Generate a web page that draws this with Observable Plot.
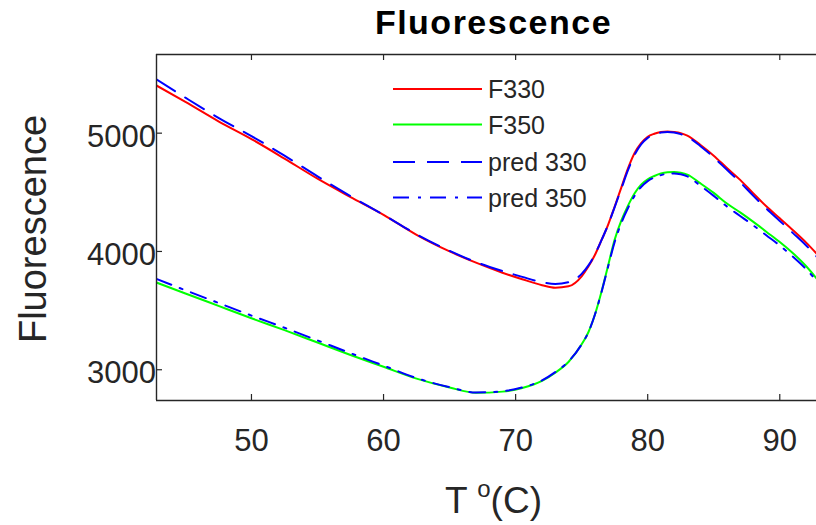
<!DOCTYPE html>
<html><head><meta charset="utf-8">
<script src="https://cdn.jsdelivr.net/npm/d3@7"></script>
<script src="https://cdn.jsdelivr.net/npm/@observablehq/plot@0.6"></script>
<style>
html,body{margin:0;padding:0;background:#fff;overflow:hidden;}
#chart{position:relative;width:816px;height:525px;overflow:hidden;}
</style></head><body><div id="chart"></div>
<script>
const temperature = [42.8,45,47.5,50,52.5,55,57.5,60,62.5,65,67,69,70.5,72,73,74,75,75.5,76,76.5,77,77.5,78,78.5,79,79.5,80,80.5,81,81.5,82,82.5,83,84,85,86,87,88,89,90,91,92,92.8];
const f330 = [5403,5264,5100,4950,4785,4615,4460,4310,4140,4000,3905,3820,3765,3715,3693,3705,3790,3870,3970,4095,4225,4380,4540,4700,4830,4915,4970,4995,5010,5015,5010,5000,4980,4900,4810,4705,4605,4490,4380,4280,4180,4075,3980];
const f350 = [3738,3645,3540,3435,3335,3230,3125,3025,2925,2850,2805,2815,2845,2905,2975,3065,3215,3315,3465,3660,3880,4100,4260,4385,4490,4565,4610,4638,4660,4670,4672,4665,4650,4575,4495,4405,4330,4250,4165,4080,3985,3875,3770];
const pred330 = [5455,5300,5130,4975,4810,4635,4468,4310,4145,4005,3910,3835,3785,3740,3725,3740,3810,3880,3975,4095,4225,4375,4530,4685,4815,4905,4960,4990,5005,5010,5005,4992,4970,4890,4795,4690,4585,4470,4360,4258,4155,4050,3955];
const pred350 = [3768,3672,3565,3458,3355,3248,3140,3035,2930,2852,2808,2818,2850,2910,2980,3070,3215,3315,3465,3655,3870,4080,4240,4365,4470,4545,4595,4625,4645,4658,4660,4652,4635,4555,4470,4380,4300,4220,4135,4050,3955,3850,3750];
const xTicks = [50,60,70,80,90];
const yTicks = [3000,4000,5000];
const seriesNames = ["F330","F350","pred 330","pred 350"];
const seriesValues = [f330,f350,pred330,pred350];
const seriesColors = ["#ff0000","#00ff00","#0000ff","#0000ff"];
const seriesDash = [null,null,"22,12","16,9,3,9"];
const titleText = "Fluorescence";
const xLabelParts = ["T ","o","(C)"];
const yLabelText = "Fluorescence";
const xDomain = [42.81, 92.78];
const yDomain = [2740, 5665];

const W = 816, H = 525, mL = 156, mR = 0, mT = 54, mB = 125;
const frameH = H - mT - mB, frameW = W - mL - mR;
const font = "'Liberation Sans', Arial, Helvetica, sans-serif";
const axisColor = "#262626";

const marks = [];
seriesValues.forEach((vals, k) => {
  const data = temperature.map((t, i) => ({t, v: vals[i]}));
  marks.push(Plot.line(data, {x: "t", y: "v", stroke: seriesColors[k], strokeWidth: 2,
    strokeDasharray: seriesDash[k] || undefined, curve: "monotone-x", clip: true}));
});
// frame lines (left, top, bottom)
marks.push(Plot.ruleX([xDomain[0]], {stroke: axisColor, strokeWidth: 1.4}));
marks.push(Plot.ruleY([yDomain[0], yDomain[1]], {stroke: axisColor, strokeWidth: 1.4}));
// inward ticks
marks.push(Plot.tickX(xTicks, {x: d => d, stroke: axisColor, strokeWidth: 1.2, insetTop: frameH - 6}));
marks.push(Plot.tickX(xTicks, {x: d => d, stroke: axisColor, strokeWidth: 1.2, insetBottom: frameH - 6}));
marks.push(Plot.tickY(yTicks, {y: d => d, stroke: axisColor, strokeWidth: 1.2, insetRight: frameW - 6}));

const chart = Plot.plot({
  width: W, height: H,
  marginLeft: mL, marginRight: mR, marginTop: mT, marginBottom: mB,
  style: {fontFamily: font, fontSize: "31px", color: axisColor, background: "#fff", overflow: "hidden"},
  x: {domain: xDomain, ticks: xTicks, tickSize: 0, tickPadding: 28, label: null, tickFormat: d => String(d)},
  y: {domain: yDomain, ticks: yTicks, tickSize: 0, tickPadding: 16, label: null, tickFormat: d => String(d)},
  marks
});
document.getElementById("chart").appendChild(chart);

// title, axis labels and legend drawn into the same svg
const svg = d3.select(chart);
svg.select("[aria-label='y-axis tick label']").attr("transform", "translate(0,4)");
svg.append("text").attr("x", 493.5).attr("y", 34).attr("text-anchor", "middle")
  .attr("font-family", font).attr("font-size", 34).attr("font-weight", "bold")
  .attr("letter-spacing", "1.5px").attr("fill", "#000").text(titleText);
const xl = svg.append("text").attr("x", 493.5).attr("y", 513).attr("text-anchor", "middle")
  .attr("font-family", font).attr("font-size", 37).attr("fill", axisColor);
xl.append("tspan").text(xLabelParts[0]);
xl.append("tspan").attr("dy", -16).attr("font-size", 24).text(xLabelParts[1]);
xl.append("tspan").attr("dy", 16).text(xLabelParts[2]);
svg.append("text").attr("transform", "translate(33,229) rotate(-90)").attr("text-anchor", "middle")
  .attr("dominant-baseline", "central").attr("font-family", font).attr("font-size", 38)
  .attr("fill", axisColor).text(yLabelText);

const legendRows = [89, 124.5, 162, 197.5];
const lg = svg.append("g").attr("text-anchor", "start");
seriesNames.forEach((name, k) => {
  const y = legendRows[k];
  lg.append("line").attr("x1", 393).attr("x2", 482).attr("y1", y).attr("y2", y)
    .attr("stroke", seriesColors[k]).attr("stroke-width", 2)
    .attr("stroke-dasharray", seriesDash[k]);
  lg.append("text").attr("x", 488).attr("y", y).attr("text-anchor", "start")
    .attr("dominant-baseline", "central").attr("font-family", font).attr("font-size", 25)
    .attr("fill", axisColor).text(name);
});
</script></body></html>
